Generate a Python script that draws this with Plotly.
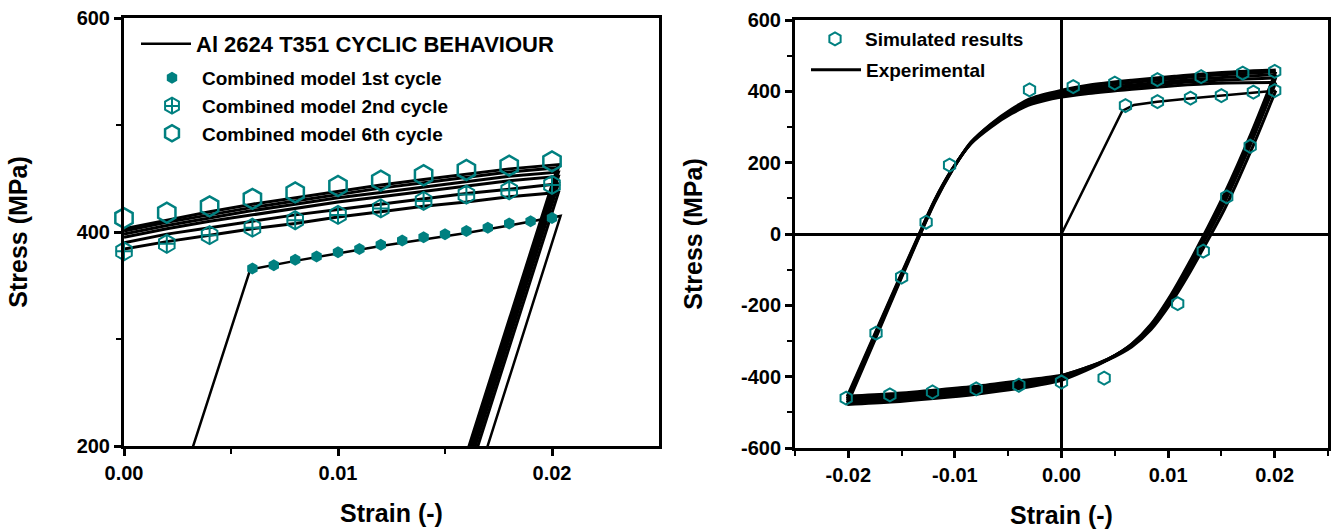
import plotly.graph_objects as go

TEAL = "#008080"
FONT = "Liberation Sans, Arial, sans-serif"
W, H = 1333, 530

# ---------------- left panel: tension branches (zoomed) ----------------
L_FIRST_STRAIN = [0.0, 0.0059, 0.008, 0.010, 0.012, 0.014, 0.016, 0.018, 0.0204, 0.0162]
L_FIRST_STRESS = [0, 365, 373, 380, 387, 393, 399, 406, 415, 150]

L_BRANCH_STRAIN = [0.000, 0.002, 0.004, 0.006, 0.008, 0.010, 0.012, 0.014, 0.016, 0.018, 0.0203]
L_CYCLE2_STRESS = [384, 391, 397, 403, 408, 414, 419, 424, 428, 433, 437]
L_CYCLE3_STRESS = [390, 398, 404, 410, 416, 421, 426, 431, 436, 440, 445]
L_CYCLE4_STRESS = [395, 403, 410, 416, 422, 428, 433, 438, 443, 448, 452]
L_CYCLE5_STRESS = [398, 406, 413, 420, 426, 432, 437, 442, 447, 452, 456]
L_CYCLE6_STRESS = [401, 409, 416, 423, 429, 435, 441, 446, 451, 456, 460]
L_CYCLE7_STRESS = [403, 411, 419, 426, 432, 438, 444, 449, 454, 459, 463]
L_UNLOAD_STRAIN = [0.01574, 0.01562, 0.01551, 0.01544, 0.01538, 0.01533]
L_UNLOAD_STRESS = [150, 150, 150, 150, 150, 150]

L_M1_STRAIN = [0.006, 0.007, 0.008, 0.009, 0.010, 0.011, 0.012, 0.013,
               0.014, 0.015, 0.016, 0.017, 0.018, 0.019, 0.020]
L_M1_STRESS = [366, 369, 374, 377, 381, 384, 388, 392, 395, 398, 401, 404, 408, 410, 413]
L_M_STRAIN = [0.000, 0.002, 0.004, 0.006, 0.008, 0.010, 0.012, 0.014, 0.016, 0.018, 0.020]
L_M2_STRESS = [382, 389, 397, 404, 411, 416, 422, 429, 435, 439, 444]
L_M6_STRESS = [413, 418, 424, 431, 437, 443, 448, 453, 458, 462, 466]

L_XTICKS = [0.0, 0.01, 0.02]
L_XLABELS = ["0.00", "0.01", "0.02"]
L_YTICKS = [200, 400, 600]
L_YLABELS = ["200", "400", "600"]

# ---------------- right panel: full hysteresis loops ----------------
R_LOAD_STRAIN = [0.0, 0.0057, 0.0068, 0.009, 0.012, 0.015, 0.018, 0.0201]
R_LOAD_STRESS = [0, 345, 362, 371, 380, 388, 396, 402]

R_DESC_STRAIN = [0.0201, 0.0178, 0.0153, 0.0134, 0.0119, 0.0103, 0.0084, 0.0066,
                 0.0044, 0.0022, 0.0, -0.004, -0.008, -0.012, -0.016, -0.0201]
R_ASC_STRAIN = [-0.0201, -0.0174, -0.0151, -0.0135, -0.0119, -0.0103, -0.0085, -0.0066,
                -0.0047, -0.0028, 0.0, 0.0025, 0.0066, 0.0106, 0.0147, 0.0201]

R_C1_DESC = [402, 235, 70, -35, -115, -192, -268, -316, -352, -376, -396, -412, -427, -438, -448, -455]
R_C1_ASC = [-455, -272, -117, -10, 95, 180, 253, 300, 337, 364, 384, 394, 406, 416, 423, 425]
R_C2_DESC = [425, 256, 89, -20, -103, -184, -262, -312, -350, -376, -397, -416, -432, -444, -454, -461]
R_C2_ASC = [-461, -276, -120, -12, 94, 179, 254, 303, 341, 369, 389, 400, 412, 423, 431, 438]
R_C3_DESC = [438, 268, 100, -12, -96, -178, -258, -310, -350, -378, -400, -421, -437, -449, -459, -466]
R_C3_ASC = [-466, -280, -122, -14, 92, 178, 255, 305, 344, 373, 393, 405, 418, 429, 438, 447]
R_C4_DESC = [447, 276, 108, -5, -90, -173, -255, -309, -351, -381, -405, -427, -443, -455, -465, -472]
R_C4_ASC = [-472, -285, -125, -16, 90, 177, 256, 307, 347, 377, 398, 411, 425, 436, 446, 455]
R_C5_DESC = [455, 283, 114, 0, -85, -169, -253, -308, -352, -384, -410, -433, -449, -461, -471, -478]
R_C5_ASC = [-478, -290, -129, -18, 88, 176, 257, 309, 350, 381, 403, 417, 431, 442, 452, 460]

R_SIM_STRAIN = [0.0060, 0.0090, 0.0121, 0.0150, 0.0180, 0.0200,
                0.0177, 0.0155, 0.0133, 0.0109, 0.0040, 0.0000, -0.0040, -0.0080,
                -0.0121, -0.0161, -0.0202, -0.0174, -0.0150, -0.0127, -0.0105, -0.0030,
                0.0011, 0.0050, 0.0090, 0.0131, 0.0170, 0.0200]
R_SIM_STRESS = [360, 371, 381, 388, 398, 402,
                246, 104, -48, -195, -404, -415, -424, -434,
                -443, -451, -460, -278, -121, 33, 193, 404,
                413, 423, 433, 441, 451, 456]

R_XTICKS = [-0.02, -0.01, 0.0, 0.01, 0.02]
R_XLABELS = ["-0.02", "-0.01", "0.00", "0.01", "0.02"]
R_YTICKS = [-600, -400, -200, 0, 200, 400, 600]
R_YLABELS = ["-600", "-400", "-200", "0", "200", "400", "600"]

fig = go.Figure()

# left panel experimental curves
line_style = dict(color="black", width=3)
fig.add_trace(go.Scatter(x=L_FIRST_STRAIN, y=L_FIRST_STRESS, mode="lines",
                         line=dict(color="black", width=2.5),
                         name="Al 2624 T351 CYCLIC BEHAVIOUR", legend="legend",
                         xaxis="x", yaxis="y"))
for s, ux, uy in zip([L_CYCLE2_STRESS, L_CYCLE3_STRESS, L_CYCLE4_STRESS,
                      L_CYCLE5_STRESS, L_CYCLE6_STRESS, L_CYCLE7_STRESS],
                     L_UNLOAD_STRAIN, L_UNLOAD_STRESS):
    fig.add_trace(go.Scatter(x=L_BRANCH_STRAIN + [ux], y=s + [uy], mode="lines",
                             line=line_style, showlegend=False, xaxis="x", yaxis="y"))

# left panel model points
fig.add_trace(go.Scatter(x=L_M1_STRAIN, y=L_M1_STRESS, mode="markers",
                         marker=dict(symbol="hexagon", size=12, color=TEAL),
                         name="Combined model 1st cycle", legend="legend2",
                         cliponaxis=False, xaxis="x", yaxis="y"))
fig.add_trace(go.Scatter(x=L_M_STRAIN, y=L_M2_STRESS, mode="markers",
                         marker=dict(symbol="hexagon-open", size=18, color=TEAL,
                                     line=dict(width=2, color=TEAL)),
                         name="Combined model 2nd cycle", legend="legend2",
                         cliponaxis=False, xaxis="x", yaxis="y"))
fig.add_trace(go.Scatter(x=L_M_STRAIN, y=L_M2_STRESS, mode="markers",
                         marker=dict(symbol="cross-thin-open", size=12, color=TEAL,
                                     line=dict(width=2, color=TEAL)),
                         showlegend=False, cliponaxis=False, xaxis="x", yaxis="y"))
fig.add_trace(go.Scatter(x=L_M_STRAIN, y=L_M6_STRESS, mode="markers",
                         marker=dict(symbol="hexagon-open", size=20, color=TEAL,
                                     line=dict(width=2.5, color=TEAL)),
                         name="Combined model 6th cycle", legend="legend2",
                         cliponaxis=False, xaxis="x", yaxis="y"))

# right panel experimental loops
fig.add_trace(go.Scatter(x=R_LOAD_STRAIN, y=R_LOAD_STRESS, mode="lines",
                         line=dict(color="black", width=2.5),
                         showlegend=False, xaxis="x2", yaxis="y2"))
first = True
for d, a in [(R_C1_DESC, R_C1_ASC), (R_C2_DESC, R_C2_ASC), (R_C3_DESC, R_C3_ASC),
             (R_C4_DESC, R_C4_ASC), (R_C5_DESC, R_C5_ASC)]:
    for xs, ys in [(R_DESC_STRAIN, d), (R_ASC_STRAIN, a)]:
        fig.add_trace(go.Scatter(x=xs, y=ys, mode="lines",
                                 line=dict(color="black", width=3, shape="spline", smoothing=0.8),
                                 name="Experimental", legend="legend4",
                                 showlegend=first, xaxis="x2", yaxis="y2"))
        first = False

fig.add_trace(go.Scatter(x=R_SIM_STRAIN, y=R_SIM_STRESS, mode="markers",
                         marker=dict(symbol="hexagon-open", size=13, color=TEAL,
                                     line=dict(width=2, color=TEAL)),
                         name="Simulated results", legend="legend3",
                         cliponaxis=False, xaxis="x2", yaxis="y2"))

tickfont = dict(family=FONT, size=20, color="black", weight="bold")
titlefont = dict(family=FONT, size=25, color="black", weight="bold")
axis_common = dict(showline=True, linecolor="black", linewidth=3, mirror=True,
                   ticks="outside", ticklen=7, tickwidth=2.5, tickcolor="black",
                   showgrid=False, tickfont=tickfont, tickmode="array", automargin=False)


def px_x(p):
    return p / W


def px_y(p):
    return 1 - p / H


legend_common = dict(bgcolor="rgba(0,0,0,0)", borderwidth=0, xanchor="left", yanchor="top",
                     itemwidth=50, tracegroupgap=0)
legend_font = dict(family=FONT, size=19, color="black", weight="bold")

# legend block positions (pixels)
LEG2_X, LEG2_Y = 142, 59

# cross drawn over the 2nd-cycle legend symbol
cx, cy = LEG2_X + 30, LEG2_Y + 47
cross_shapes = [
    dict(type="line", xref="paper", yref="paper", x0=px_x(cx), x1=px_x(cx),
         y0=px_y(cy - 7), y1=px_y(cy + 7), line=dict(color=TEAL, width=2)),
    dict(type="line", xref="paper", yref="paper", x0=px_x(cx - 6.5), x1=px_x(cx + 6.5),
         y0=px_y(cy), y1=px_y(cy), line=dict(color=TEAL, width=2)),
]

fig.update_layout(
    width=W, height=H, margin=dict(l=0, r=0, t=0, b=0),
    plot_bgcolor="white", paper_bgcolor="white",
    font=dict(family=FONT, color="black"),
    shapes=cross_shapes,
    xaxis=dict(domain=[px_x(124), px_x(659)], range=[0, 0.025],
               tickvals=L_XTICKS, ticktext=L_XLABELS, zeroline=False,
               minor=dict(tickvals=[0.005, 0.015], ticks="outside", ticklen=5,
                          tickwidth=2, tickcolor="black"),
               title=dict(text="Strain (-)", font=titlefont, standoff=22),
               anchor="y", **axis_common),
    yaxis=dict(domain=[px_y(446), px_y(18)], range=[200, 600],
               tickvals=L_YTICKS, ticktext=L_YLABELS, zeroline=False,
               minor=dict(tickvals=[300, 500], ticks="outside", ticklen=5,
                          tickwidth=2, tickcolor="black"),
               title=dict(text="Stress (MPa)", font=titlefont, standoff=42),
               anchor="x", **axis_common),
    xaxis2=dict(domain=[px_x(795), px_x(1328)], range=[-0.025, 0.025],
                tickvals=R_XTICKS, ticktext=R_XLABELS,
                zeroline=True, zerolinecolor="black", zerolinewidth=2.5,
                minor=dict(tickvals=[-0.025, -0.015, -0.005, 0.005, 0.015, 0.025],
                           ticks="outside", ticklen=5, tickwidth=2, tickcolor="black"),
                title=dict(text="Strain (-)", font=titlefont, standoff=22),
                anchor="y2", **axis_common),
    yaxis2=dict(domain=[px_y(448), px_y(20)], range=[-600, 600],
                tickvals=R_YTICKS, ticktext=R_YLABELS,
                zeroline=True, zerolinecolor="black", zerolinewidth=2.5,
                minor=dict(tickvals=[-500, -300, -100, 100, 300, 500], ticks="outside",
                           ticklen=5, tickwidth=2, tickcolor="black"),
                title=dict(text="Stress (MPa)", font=titlefont, standoff=32),
                anchor="x2", **axis_common),
    legend=dict(x=px_x(136), y=px_y(23),
                font=dict(family=FONT, size=22, color="black", weight="bold"),
                **legend_common),
    legend2=dict(x=px_x(LEG2_X), y=px_y(LEG2_Y), font=legend_font, **legend_common),
    legend3=dict(x=px_x(805), y=px_y(20), font=legend_font, **legend_common),
    legend4=dict(x=px_x(806), y=px_y(51), font=legend_font, **legend_common),
)

fig.write_html("out.html")
